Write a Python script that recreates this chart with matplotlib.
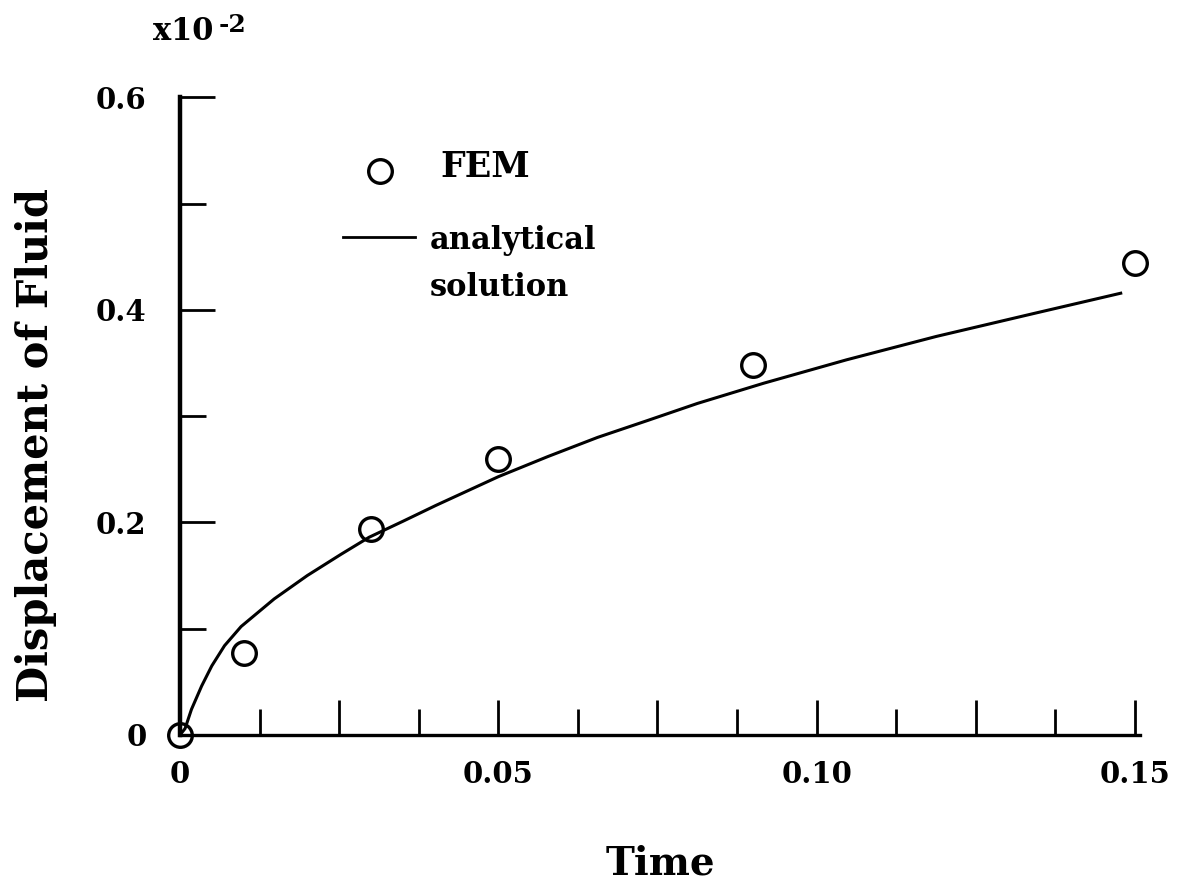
import numpy as np
import matplotlib
matplotlib.use("Agg")
import matplotlib.pyplot as plt

# FEM results
fem_time = [0.0, 0.01, 0.03, 0.05, 0.09, 0.15]
fem_disp = [0.0, 0.077, 0.194, 0.260, 0.348, 0.444]

# analytical solution
ana_time = [0.0, 0.0008, 0.0018, 0.0034, 0.0050, 0.0070, 0.0096, 0.0122, 0.0148,
            0.0200, 0.0253, 0.0297, 0.0350, 0.0402, 0.05, 0.0578, 0.0656, 0.0735,
            0.0813, 0.0917, 0.1047, 0.1188, 0.1344, 0.148]
ana_disp = [0.0, 0.006, 0.024, 0.046, 0.065, 0.084, 0.102, 0.115, 0.128,
            0.150, 0.170, 0.186, 0.201, 0.216, 0.243, 0.262, 0.280, 0.296,
            0.312, 0.331, 0.353, 0.375, 0.397, 0.416]

xticks = [0.0, 0.025, 0.05, 0.075, 0.10, 0.125, 0.15]
xticklabels = ["0", "", "0.05", "", "0.10", "", "0.15"]
xminor = [0.0125, 0.0375, 0.0625, 0.0875, 0.1125, 0.1375]
yticks = [0.0, 0.2, 0.4, 0.6]
yticklabels = ["0", "0.2", "0.4", "0.6"]
yminor = [0.1, 0.3, 0.5]

plt.rcParams['font.family'] = ['DejaVu Serif']
plt.rcParams['font.weight'] = 'bold'

fig = plt.figure(figsize=(11.95, 8.93), dpi=100)
ax = fig.add_axes([0.1506, 0.177, 0.8034, 0.714])

ax.plot(ana_time, ana_disp, color='black', lw=2.2, solid_capstyle='butt',
        solid_joinstyle='round')
ax.plot(fem_time, fem_disp, linestyle='none', marker='o', markersize=17,
        markerfacecolor='none', markeredgecolor='black', markeredgewidth=2.4,
        clip_on=False, zorder=5)

ax.set_xlim(0, 0.1508)
ax.set_ylim(0, 0.6)

for s in ['top', 'right']:
    ax.spines[s].set_visible(False)
ax.spines['left'].set_linewidth(3.2)
ax.spines['bottom'].set_linewidth(2.4)

ax.set_xticks(xticks)
ax.set_xticklabels(xticklabels)
ax.set_xticks(xminor, minor=True)
ax.set_yticks(yticks)
ax.set_yticklabels(yticklabels)
ax.set_yticks(yminor, minor=True)
ax.tick_params(which='major', direction='in', length=25, width=2.0,
               labelsize=21, pad=18)
ax.tick_params(which='minor', direction='in', length=19, width=2.0)
ax.tick_params(axis='y', pad=24)

ax.set_xlabel('Time', fontsize=28, fontweight='bold')
ax.xaxis.set_label_coords(0.5, -0.172)
ax.set_ylabel('Displacement of Fluid', fontsize=30, fontweight='bold')
ax.yaxis.set_label_coords(-0.128, 0.455)

# legend
ax.plot([0.208], [0.885], transform=ax.transAxes, marker='o', markersize=17,
        markerfacecolor='none', markeredgecolor='black', markeredgewidth=2.4,
        clip_on=False)
ax.text(0.271, 0.890, 'FEM', transform=ax.transAxes, fontsize=25,
        fontweight='bold', va='center', ha='left')
ax.plot([0.170, 0.245], [0.781, 0.781], transform=ax.transAxes,
        color='black', lw=2.0)
ax.text(0.260, 0.776, 'analytical', transform=ax.transAxes, fontsize=22,
        fontweight='bold', va='center', ha='left')
ax.text(0.260, 0.702, 'solution', transform=ax.transAxes, fontsize=22,
        fontweight='bold', va='center', ha='left')

# scale factor
fig.text(153 / 1195, 1 - 40 / 893, 'x10', fontsize=22, fontweight='bold',
         ha='left', va='baseline')
fig.text(219 / 1195, 1 - 32 / 893, '-2', fontsize=18, fontweight='bold',
         ha='left', va='baseline')

fig.savefig('out.png', dpi=100, facecolor='white')
